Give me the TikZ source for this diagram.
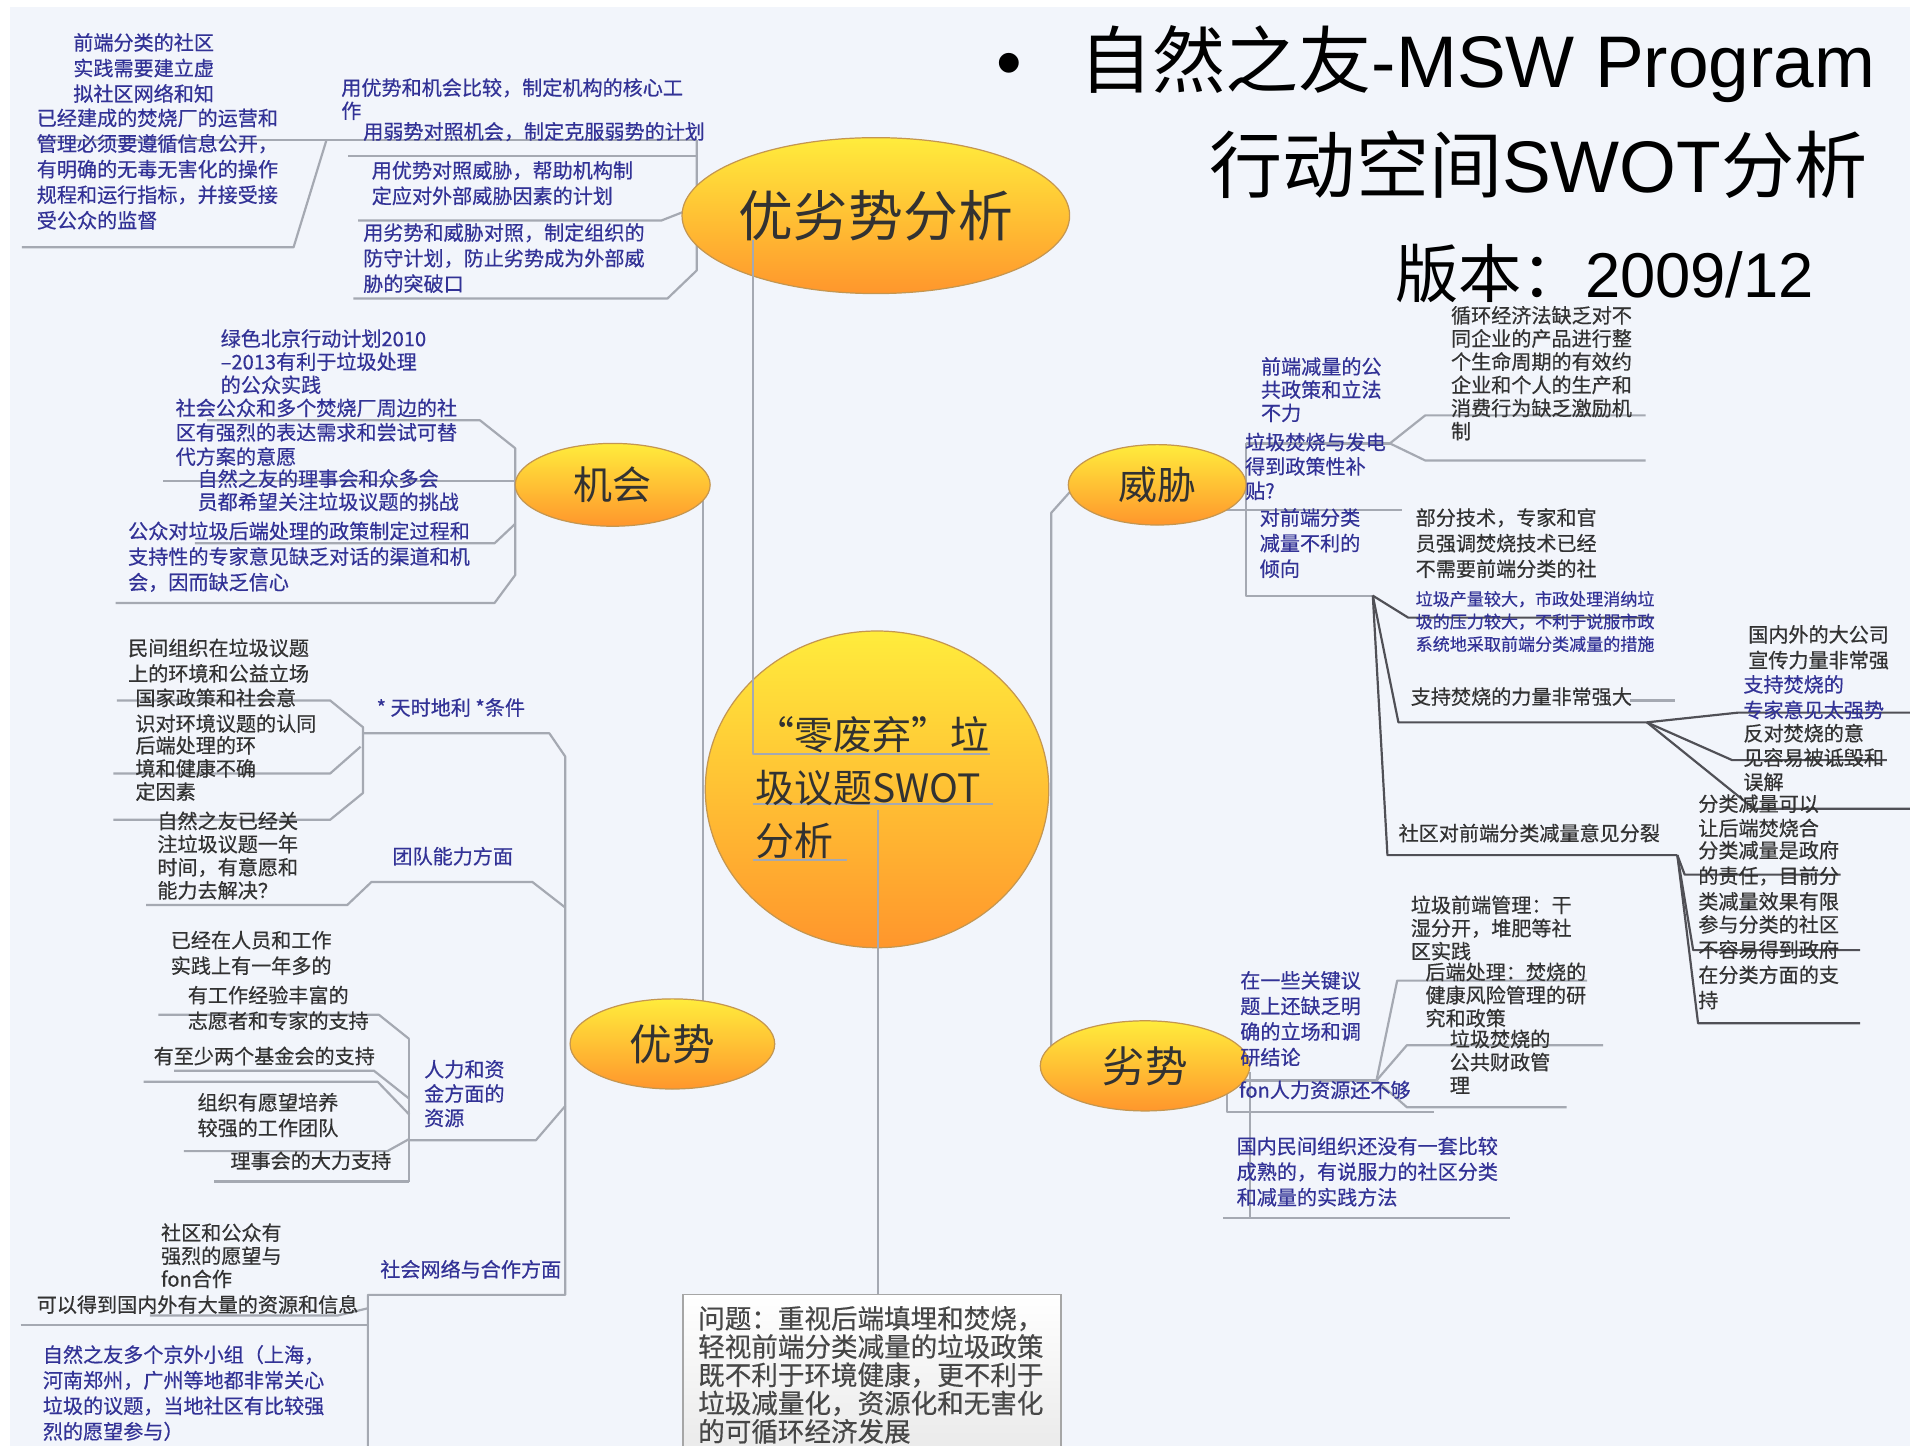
\documentclass[tikz,border=0pt]{standalone}
\usepackage{fontspec}
\setmainfont{Noto Sans CJK SC}
\newfontfamily\txtf{Noto Sans CJK SC}[FakeBold=0.5]
\newfontfamily\arialf{Liberation Sans}
\usepackage{tikz}
\usetikzlibrary{shapes}
\usetikzlibrary{positioning}
\definecolor{bgc}{RGB}{242,245,251}
\definecolor{linec}{RGB}{165,169,178}
\definecolor{lined}{RGB}{80,80,86}
\definecolor{bluet}{RGB}{50,50,150}
\definecolor{blackt}{RGB}{50,50,50}
\definecolor{topy}{RGB}{255,236,60}
\definecolor{topo}{RGB}{255,150,44}
\definecolor{topb}{RGB}{196,150,80}
\tikzstyle{ln}=[draw=linec,line width=1.8pt,line join=round]
\tikzstyle{lnd}=[draw=lined,line width=1.8pt,line join=round]
\tikzstyle{bt}=[anchor=north west,inner sep=0pt,align=left,yshift=8pt,text=bluet,font=\txtf\fontsize{16.5}{21}\selectfont]
\tikzstyle{kt}=[bt,text=blackt]
\tikzstyle{tight}=[font=\txtf\fontsize{16.5}{19}\selectfont]
\tikzstyle{topic}=[ellipse,draw=topb,line width=1pt,top color=topy,bottom color=topo,inner sep=0pt,text=blackt]

\begin{document}
\begin{tikzpicture}[x=1pt,y=-1pt]
\useasboundingbox (0,0) rectangle (1568,1187);
\fill[white] (0,0) rectangle (1568,1187);
\fill[bgc] (8,6) rectangle (1568,1187);

%junctions
\coordinate (jA) at (1141,364);
\coordinate (jC) at (1127,489);
\coordinate (jC3) at (1352,593);
\coordinate (jC4) at (1377,702);
\coordinate (jW) at (1130,887);
\coordinate (jR) at (336,936);

%swot branches
\draw[ln] (30,115) -- (572,115);
\draw[ln] (268,115) -- (241,203) -- (18,203);
\draw[ln] (286,128) -- (572,128);
\draw[ln] (294,181) -- (543,181) -- (566,172);
\draw[ln] (290,245) -- (548,245) -- (572,222) -- (572,115);

%opportunities
\draw[ln] (170,345) -- (394,345) -- (423,368) -- (423,472) -- (406,495) -- (95,495);
\draw[ln] (134,395) -- (430,395);
\draw[ln] (160,446) -- (406,446) -- (423,430);
\draw[ln] (577,405) -- (577,840);

%strengths
\draw[ln] (298,602) -- (451,602) -- (464,621) -- (464,1063) -- (302,1063) -- (302,1190);
\draw[ln] (96,575) -- (271,575) -- (298,597) -- (298,651) -- (271,673) -- (93,673);
\draw[ln] (93,635) -- (271,635) -- (296,613);
\draw[ln] (120,743) -- (285,743) -- (305,724) -- (437,724) -- (464,745);
\draw[ln] (jR) -- (440,936) -- (464,908);
\draw[ln] (336,853) -- (336,970);
\foreach \a/\b/\c/\d in {130/833/311/853,143/879/307/902,118/888/310/915,151/945/318/935,176/970/336/970}
  \draw[ln] (\a,\b) -- (\c,\b) -- (336,\d);
\draw[ln] (123,1080) -- (277,1080) -- (302,1074);
\draw[ln] (17,1088) -- (302,1088);

%threats
\draw[ln] (1023,364) -- (1023,489) -- (jC);
\draw[ln] (1023,364) -- (jA);
\draw[ln] (1005,419) -- (1151,419);
\foreach \y in {341,378}
  \draw[ln] (jA) -- (1170,\y) -- (1351,\y);
\foreach \a/\b/\c in {1156/507/1358,1148/593/1352,1139/702/1377}
  \draw[lnd] (jC) -- (\a,\b) -- (\c,\b);
\foreach \a/\b/\c in {1427/585/1568,1422/624/1549,1440/664/1568}
  \draw[lnd] (jC3) -- (\a,\b) -- (\c,\b);
\foreach \a/\b/\c in {1383/718/1511,1390/780/1527,1394/840/1527}
  \draw[lnd] (jC4) -- (\a,\b) -- (\c,\b);
\draw[ln] (1338,575) -- (1375,575);

%weaknesses
\draw[ln] (880,402) -- (863,421) -- (863,870);
\draw[ln] (1012,887) -- (jW);
\foreach \a/\b/\c in {1147/805/1303,1155/858/1316,1155/909/1286}
  \draw[ln] (jW) -- (\a,\b) -- (\c,\b);
\draw[ln] (1007,895) -- (1007,913) -- (1177,913);
\draw[ln] (1026,880) -- (1026,1000);
\draw[ln] (1004,1000) -- (1240,1000);

%topics
\node[topic,minimum width=306pt,minimum height=128pt,font=\fontsize{45}{45}\selectfont] (swot) at (719,177) {优劣势分析};
\node[topic,minimum width=160pt,minimum height=68pt,font=\fontsize{32}{32}\selectfont] (opp) at (503,398) {机会};
\node[topic,minimum width=146pt,minimum height=66pt,font=\fontsize{32}{32}\selectfont] (thr) at (950,398) {威胁};
\node[topic,minimum width=168pt,minimum height=74pt,font=\fontsize{35}{35}\selectfont] (str) at (552,857) {优势};
\node[topic,minimum width=172pt,minimum height=74pt,font=\fontsize{35}{35}\selectfont] (wea) at (940,875) {劣势};
\node[topic,minimum width=282pt,minimum height=260pt] (core) at (720,648) {};

%core text and links
\draw[ln] (618,197) -- (618,619) -- (813,619);
\draw[ln] (618,660) -- (815,660);
\draw[ln] (618,706) -- (695,706);
\draw[ln] (721,665) -- (721,1062);
\node[anchor=north west,inner sep=0pt,align=left,yshift=16pt,text=blackt,font=\fontsize{32}{43.5}\selectfont] (coretxt) at (620,604) {“零废弃”垃\\圾议题SWOT\\分析};

%question
\node[draw=gray!70,line width=1.5pt,top color=white,bottom color=gray!18,anchor=north west,minimum width=310pt,minimum height=140pt] (qbox) at (560,1062) {};
\node[anchor=north west,inner sep=0pt,align=left,yshift=11pt,text=black!72,font=\txtf\fontsize{21.8}{23.2}\selectfont] (qtxt) at (573,1083) {问题：重视后端填埋和焚烧，\\轻视前端分类减量的垃圾政策\\既不利于环境健康，更不利于\\垃圾减量化，资源化和无害化\\的可循环经济发展};

%title
\node[anchor=base west,inner sep=0pt,font=\arialf\fontsize{60}{60}\selectfont] (bul) at (818,72) {•};
\node[anchor=base west,inner sep=0pt,font=\fontsize{60}{60}\selectfont] (title1) at (886,72) {自然之友{\arialf -MSW Program}};
\node[anchor=base west,inner sep=0pt,font=\fontsize{60}{60}\selectfont] (title2) at (993,158) {行动空间{\arialf SWOT}分析};
\node[anchor=base west,inner sep=0pt,font=\fontsize{52}{52}\selectfont] (title3) at (1145,244) {版本：{\arialf 2009/12}};

%swot texts
\node[bt] (sA1) at (60,35) {前端分类的社区\\实践需要建立虚\\拟社区网络和知};
\node[bt] (sA2) at (30,97) {已经建成的焚烧厂的运营和\\管理必须要遵循信息公开，\\有明确的无毒无害化的操作\\规程和运行指标，并接受接\\受公众的监督};
\node[bt,tight] (sB1) at (280,72) {用优势和机会比较，制定机构的核心工\\作};
\node[bt] (sB2) at (298,108) {用弱势对照机会，制定克服弱势的计划};
\node[bt] (sB3) at (305,140) {用优势对照威胁，帮助机构制\\定应对外部威胁因素的计划};
\node[bt] (sB4) at (298,191) {用劣势和威胁对照，制定组织的\\防守计划，防止劣势成为外部威\\胁的突破口};

%opportunity texts
\node[bt,tight] (oA) at (181,278) {绿色北京行动计划2010\\–2013有利于垃圾处理\\的公众实践};
\node[bt,font=\txtf\fontsize{16.5}{20}\selectfont] (oB) at (144,335) {社会公众和多个焚烧厂周边的社\\区有强烈的表达需求和尝试可替\\代方案的意愿};
\node[bt,tight] (oC) at (162,393) {自然之友的理事会和众多会\\员都希望关注垃圾议题的挑战};
\node[bt] (oD) at (105,436) {公众对垃圾后端处理的政策制定过程和\\支持性的专家意见缺乏对话的渠道和机\\会，因而缺乏信心};

%strength texts
\node[bt] (sTime) at (309,581) {*\ 天时地利\ *条件};
\node[bt] (sTeam) at (322,703) {团队能力方面};
\node[bt,font=\txtf\fontsize{16.5}{20}\selectfont] (sRes) at (348,878) {人力和资\\金方面的\\资源};
\node[bt] (sNet) at (312,1042) {社会网络与合作方面};
\node[kt] (oS1) at (105,532) {民间组织在垃圾议题\\上的环境和公益立场};
\node[kt] (oS2) at (111,573) {国家政策和社会意\\识对环境议题的认同};
\node[kt,tight] (oS3) at (111,612) {后端处理的环\\境和健康不确\\定因素};
\node[kt,tight] (oT1) at (129,674) {自然之友已经关\\注垃圾议题一年\\时间，有意愿和\\能力去解决？};
\node[kt] (oR1) at (140,772) {已经在人员和工作\\实践上有一年多的};
\node[kt] (oR2) at (154,817) {有工作经验丰富的\\志愿者和专家的支持};
\node[kt] (oR3) at (126,867) {有至少两个基金会的支持};
\node[kt] (oR4) at (162,905) {组织有愿望培养\\较强的工作团队};
\node[kt] (oR5) at (189,953) {理事会的大力支持};
\node[kt,tight] (oN1) at (132,1012) {社区和公众有\\强烈的愿望与\\fon合作};
\node[kt] (oN2) at (30,1071) {可以得到国内外有大量的资源和信息};
\node[bt] (oN3) at (35,1112) {自然之友多个京外小组（上海，\\河南郑州，广州等地都非常关心\\垃圾的议题，当地社区有比较强\\烈的愿望参与）};

%threat texts
\node[bt,tight] (tA) at (1035,301) {前端减量的公\\共政策和立法\\不力};
\node[bt,font=\txtf\fontsize{16.5}{20}\selectfont] (tB) at (1022,363) {垃圾焚烧与发电\\得到政策性补\\贴?};
\node[bt] (tC) at (1034,425) {对前端分类\\减量不利的\\倾向};
\node[kt,tight] (tA1) at (1191,259) {循环经济法缺乏对不\\同企业的产品进行整\\个生命周期的有效约};
\node[kt,tight] (tA2) at (1191,316) {企业和个人的生产和\\消费行为缺乏激励机\\制};
\node[kt] (tC1) at (1162,425) {部分技术，专家和官\\员强调焚烧技术已经\\不需要前端分类的社};
\node[bt,yshift=-1pt,font=\txtf\fontsize{14}{18.5}\selectfont] (tC2) at (1162,492) {垃圾产量较大，市政处理消纳垃\\圾的压力较大，不利于说服市政\\系统地采取前端分类减量的措施};
\node[kt] (tC3) at (1158,572) {支持焚烧的力量非常强大};
\node[kt] (tC4) at (1148,684) {社区对前端分类减量意见分裂};
\node[kt] (tC3a) at (1435,521) {国内外的大公司\\宣传力量非常强};
\node[bt] (tC3b) at (1431,562) {支持焚烧的\\专家意见太强势};
\node[kt,font=\txtf\fontsize{16.5}{20}\selectfont] (tC3c) at (1431,602) {反对焚烧的意\\见容易被诋毁和\\误解};
\node[kt,font=\txtf\fontsize{16.5}{20}\selectfont] (tC4a) at (1394,660) {分类减量可以\\让后端焚烧合};
\node[kt] (tC4b) at (1394,698) {分类减量是政府\\的责任，目前分\\类减量效果有限};
\node[kt,font=\txtf\fontsize{16.5}{20.7}\selectfont] (tC4c) at (1394,759) {参与分类的社区\\不容易得到政府\\在分类方面的支\\持};

%weakness texts
\node[bt] (wA) at (1018,805) {在一些关键议\\题上还缺乏明\\确的立场和调\\研结论};
\node[bt] (wB) at (1017,895) {fon人力资源还不够};
\node[bt] (wC) at (1015,941) {国内民间组织还没有一套比较\\成熟的，有说服力的社区分类\\和减量的实践方法};
\node[kt,tight] (wA1) at (1158,743) {垃圾前端管理：干\\湿分开，堆肥等社\\区实践};
\node[kt,tight] (wA2) at (1170,798) {后端处理：焚烧的\\健康风险管理的研\\究和政策};
\node[kt,tight] (wA3) at (1190,853) {垃圾焚烧的\\公共财政管\\理};
\end{tikzpicture}
\end{document}
